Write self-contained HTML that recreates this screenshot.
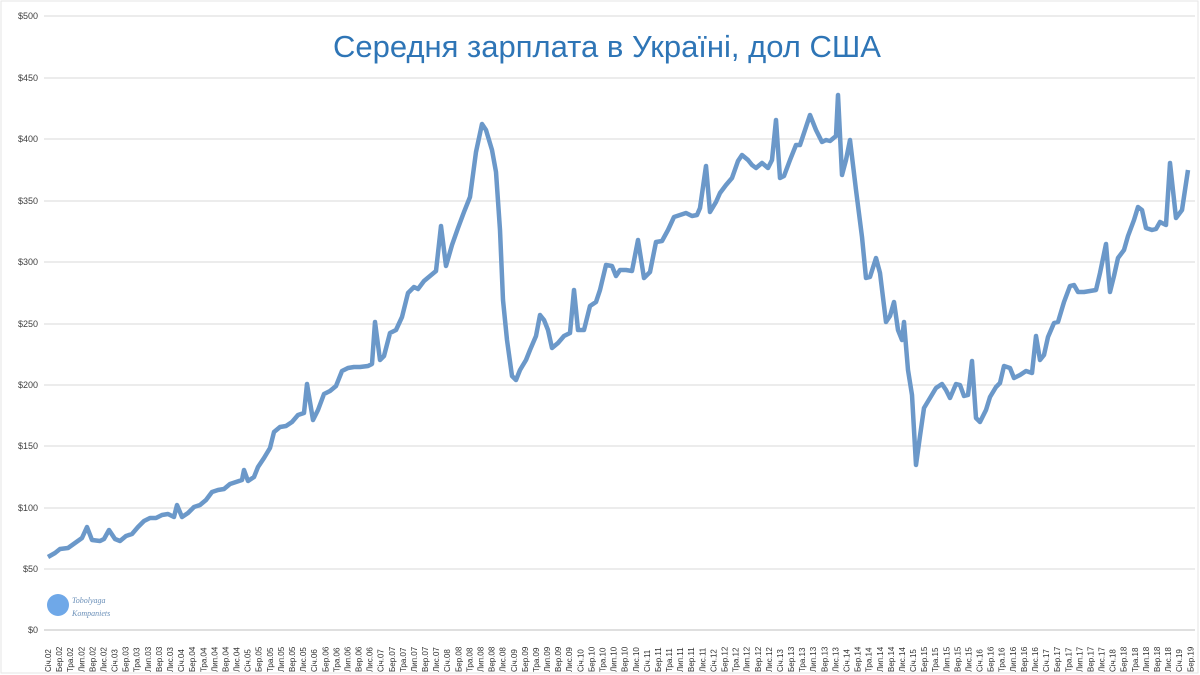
<!DOCTYPE html>
<html><head><meta charset="utf-8"><style>
body{margin:0;background:#fff;}
svg{display:block;font-family:"Liberation Sans","DejaVu Sans",sans-serif;}
</style></head><body>
<svg width="1200" height="675" viewBox="0 0 1200 675" xmlns="http://www.w3.org/2000/svg">
<rect width="1200" height="675" fill="#fff"/>
<rect x="1" y="1" width="1197" height="672" fill="none" stroke="#e6e6e6"/>
<g stroke="#d9d9d9" stroke-width="1">
<line x1="44" x2="1195" y1="16" y2="16"/><line x1="44" x2="1195" y1="78" y2="78"/>
<line x1="44" x2="1195" y1="139" y2="139"/><line x1="44" x2="1195" y1="201" y2="201"/>
<line x1="44" x2="1195" y1="262" y2="262"/><line x1="44" x2="1195" y1="324" y2="324"/>
<line x1="44" x2="1195" y1="385" y2="385"/><line x1="44" x2="1195" y1="446" y2="446"/>
<line x1="44" x2="1195" y1="508" y2="508"/><line x1="44" x2="1195" y1="569" y2="569"/>
</g>
<line x1="44" x2="1195" y1="630" y2="630" stroke="#bfbfbf"/>
<g font-size="9" fill="#404040" text-anchor="end">
<text x="38" y="19">$500</text><text x="38" y="81">$450</text><text x="38" y="142">$400</text>
<text x="38" y="204">$350</text><text x="38" y="265">$300</text><text x="38" y="327">$250</text>
<text x="38" y="388">$200</text><text x="38" y="449">$150</text><text x="38" y="511">$100</text>
<text x="38" y="572">$50</text><text x="38" y="633">$0</text>
</g>
<text x="607" y="57" text-anchor="middle" font-size="31" fill="#2e75b6">Середня зарплата в Україні, дол США</text>
<circle cx="58" cy="605" r="11" fill="#6fa8e8"/>
<text x="72" y="603" font-size="8" font-style="italic" fill="#6a8fb8" font-family="Liberation Serif,serif">Tobolyaga</text>
<text x="72" y="616" font-size="8" font-style="italic" fill="#6a8fb8" font-family="Liberation Serif,serif">Kompaniets</text>
<g id="labels" font-size="8" fill="#303030"></g>
<polyline fill="none" stroke="#6b98c9" stroke-width="4.5" stroke-linejoin="round" points="48,557 55,553 60,549 68,548 75,543 82,538 87,527 92,540 100,541 104,539 109,530 115,539 120,541 126,536 132,534 138,527 144,521 150,518 156,518 162,515 168,514 174,517 177,505 182,517 188,513 194,507 200,505 206,500 212,492 218,490 224,489 230,484 236,482 242,480 244,470 248,481 254,477 258,467 264,458 270,448 274,432 280,427 286,426 292,422 298,415 304,413 307,384 313,420 318,410 324,394 330,391 336,386 342,371 348,368 354,367 360,367 368,366 372,364 375,322 380,360 384,356 390,333 396,330 402,317 408,293 414,287 418,289 424,281 430,276 436,271 441,226 446,266 452,245 458,228 464,212 470,197 476,152 482,124 486,130 492,150 496,172 500,230 503,300 507,340 512,376 516,380 520,370 526,360 530,350 536,336 540,315 544,320 548,330 552,348 558,343 564,336 570,333 574,290 578,330 584,330 590,306 596,302 600,290 606,265 612,266 616,276 620,270 626,270 632,271 638,240 644,278 650,272 656,242 662,241 668,230 674,217 680,215 686,213 692,216 697,215 700,208 706,166 710,212 716,202 720,193 726,185 732,178 738,161 742,155 748,160 752,165 756,168 762,163 768,168 772,160 776,120 780,178 784,176 790,160 796,145 800,145 806,127 810,115 816,130 822,142 826,140 830,141 836,136 838,95 842,175 846,160 850,140 856,190 862,237 866,278 870,277 876,258 880,273 886,322 890,316 894,302 898,330 902,340 904,322 908,370 912,395 916,465 920,436 924,408 930,398 936,388 942,384 946,390 950,398 956,384 960,385 964,396 968,395 972,361 976,418 980,422 986,410 990,397 996,387 1000,383 1004,366 1010,368 1014,378 1020,375 1026,371 1032,373 1036,336 1040,360 1044,355 1048,337 1054,323 1058,322 1064,302 1070,286 1074,285 1078,292 1084,292 1090,291 1096,290 1100,273 1106,244 1110,292 1114,276 1118,258 1124,250 1128,236 1134,220 1138,207 1142,210 1146,228 1152,230 1156,229 1160,222 1166,225 1170,163 1176,218 1182,210 1188,170"/>
</svg>
<script>
var m=["Січ","Бер","Тра","Лип","Вер","Лис"],g=document.getElementById("labels"),s="";
for(var i=0;i<104;i++){var yr=2+Math.floor(i/6),x=48+i*11.09+3;
var t=m[i%6]+"."+(yr<10?"0":"")+yr;
s+='<text transform="translate('+x.toFixed(1)+',672) rotate(-90)">'+t+'</text>';}
g.innerHTML=s;
</script>
</body></html>
